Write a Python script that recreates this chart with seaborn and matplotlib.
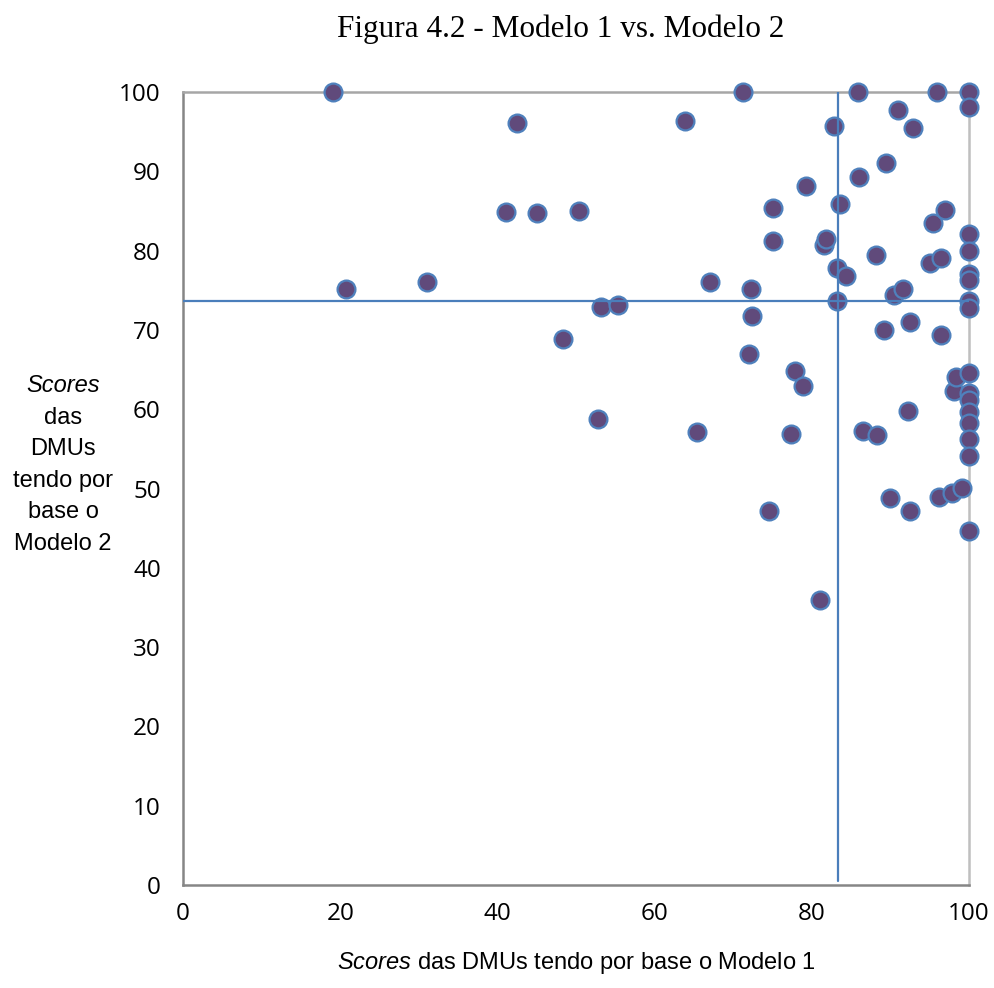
import numpy as np
import pandas as pd
import seaborn as sns
import matplotlib.pyplot as plt

# Scores of each DMU (Modelo 1 on x, Modelo 2 on y)
modelo1 = [19.1, 20.8, 31.0, 41.1, 42.5, 45.1, 48.3, 50.4, 52.8, 53.2,
           55.3, 63.9, 65.4, 67.1, 71.2, 72.0, 72.3, 72.4, 74.5, 75.0,
           75.1, 77.4, 77.8, 78.9, 79.3, 81.0, 81.5, 81.8, 82.8, 83.2,
           83.2, 83.6, 84.4, 85.9, 86.0, 86.5, 88.2, 88.3, 89.2, 89.5,
           89.9, 90.4, 91.0, 91.6, 92.2, 92.5, 92.5, 92.9, 95.1, 95.4,
           95.9, 96.2, 96.4, 96.5, 96.9, 97.9, 98.1, 98.3, 99.1,
           100, 100, 100, 100, 100, 100, 100, 100, 100, 100,
           100, 100, 100, 100, 100, 100]
modelo2 = [100, 75.1, 76.1, 84.9, 96.1, 84.8, 68.8, 85.0, 58.8, 72.9,
           73.1, 96.3, 57.1, 76.0, 100, 67.0, 75.2, 71.7, 47.2, 81.2,
           85.4, 56.9, 64.8, 62.9, 88.1, 35.9, 80.7, 81.5, 95.7, 77.8,
           73.7, 85.9, 76.8, 100, 89.3, 57.2, 79.4, 56.7, 70.0, 91.0,
           48.8, 74.4, 97.7, 75.2, 59.8, 47.2, 71.0, 95.5, 78.4, 83.5,
           100, 48.9, 79.1, 69.3, 85.1, 49.4, 62.3, 64.1, 50.1,
           100, 98.1, 82.1, 80.0, 77.0, 76.3, 73.7, 72.8, 64.6, 62.0,
           61.1, 59.6, 58.2, 56.2, 54.1, 44.6]

# average reference lines
media_modelo1 = 83.3
media_modelo2 = 73.7

x_ticks = [0, 20, 40, 60, 80, 100]
y_ticks = [0, 10, 20, 30, 40, 50, 60, 70, 80, 90, 100]

df = pd.DataFrame({"m1": modelo1, "m2": modelo2})

sns.set_style("white")
plt.rcParams["mathtext.fontset"] = "custom"
plt.rcParams["mathtext.rm"] = "Liberation Sans"
plt.rcParams["mathtext.it"] = "Liberation Sans:italic"

W, H = 995, 988
fig = plt.figure(figsize=(W / 100, H / 100), dpi=100)
ax = fig.add_axes([183 / W, 1 - 885 / H, (969 - 183) / W, (885 - 92) / H])

sns.scatterplot(data=df, x="m1", y="m2", ax=ax, s=165, color="#604A7B",
                edgecolor="#4F81BD", linewidth=1.6, clip_on=False, zorder=3)

# mean lines
ax.plot([0, 100], [media_modelo2, media_modelo2], color="#4A7EBB", lw=1.6, zorder=4)
ax.plot([media_modelo1, media_modelo1], [0.5, 100], color="#4A7EBB", lw=1.6, zorder=4)

ax.set_xlim(0, 100)
ax.set_ylim(0, 100)
ax.set_xticks(x_ticks)
ax.set_yticks(y_ticks)

for side in ["left", "bottom"]:
    ax.spines[side].set_color("#868686")
    ax.spines[side].set_linewidth(1.8)
ax.spines["top"].set_color("#A6A6A6")
ax.spines["top"].set_linewidth(1.8)
ax.spines["right"].set_color("#BFBFBF")
ax.spines["right"].set_linewidth(1.8)

ax.tick_params(axis="both", direction="out", length=5.5, width=1.5, color="#868686",
               labelsize=17.5, labelcolor="black")
ax.tick_params(axis="x", pad=7)
ax.tick_params(axis="y", pad=10.5)
for lab in ax.get_xticklabels() + ax.get_yticklabels():
    lab.set_fontfamily("Open Sans")

ax.set_xlabel("")
ax.set_ylabel("")
fig.text(576 / W, 1 - 969 / H, r"$\it{Scores}$ das DMUs tendo por base o Modelo 1",
         ha="center", va="baseline", fontsize=17, family="Liberation Sans", color="black")

# multi-line y label, first word in italics
ylabel_lines = ["Scores", "das", "DMUs", "tendo por", "base o", "Modelo 2"]
for i, line in enumerate(ylabel_lines):
    fig.text(63 / W, 1 - (386 + i * 31.6) / H, line, ha="center", va="center",
             fontsize=17, family="Liberation Sans", color="black",
             style="italic" if i == 0 else "normal")

fig.text(561 / W, 1 - 37.5 / H, "Figura 4.2 - Modelo 1 vs. Modelo 2", ha="center",
         va="baseline", fontsize=22.5, family="Liberation Serif", color="black")

fig.savefig("out.png", dpi=100)
